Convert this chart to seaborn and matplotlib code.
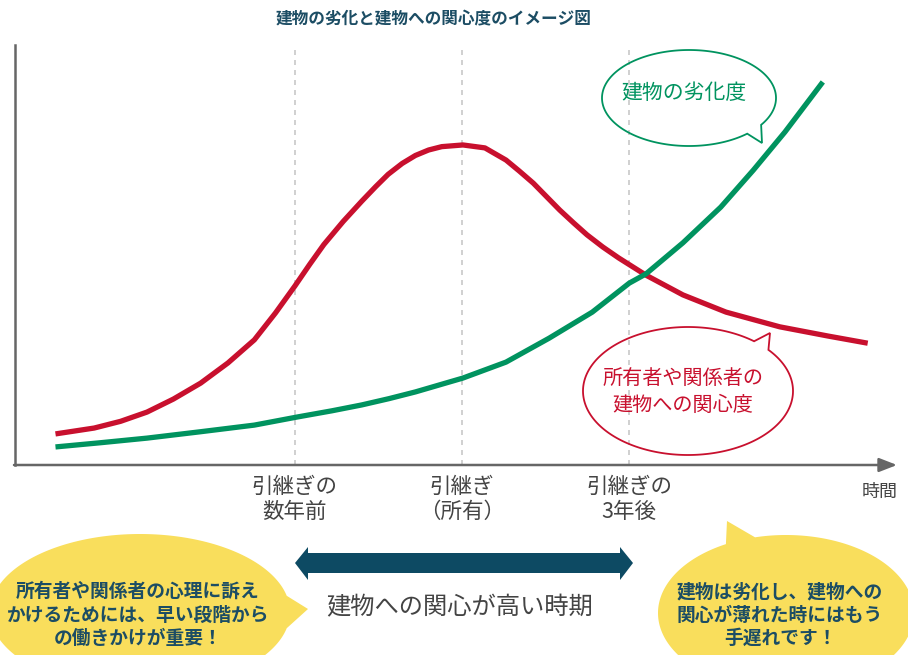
import numpy as np
import pandas as pd
import matplotlib
matplotlib.use("Agg")
import matplotlib.pyplot as plt
from matplotlib.patches import Polygon
import seaborn as sns

# ---------------- data ----------------
interest_x = [4.6, 9.0, 12.0, 15.0, 18.0, 21.1, 24.2, 27.2, 29.6, 31.8, 33.5,
              35.1, 37.3, 39.4, 41.0, 42.4, 44.0, 45.5, 47.0, 48.5, 50.9,
              53.4, 55.8, 57.3, 58.9, 60.4, 61.9, 63.5, 65.0, 66.8, 68.6,
              71.7, 75.9, 80.8, 86.9, 92.4, 96.9]
interest_y = [7.4, 8.8, 10.4, 12.6, 15.7, 19.5, 24.3, 29.8, 36.2, 42.6, 47.8,
              52.5, 58.0, 62.8, 66.3, 69.2, 71.8, 73.7, 75.0, 75.8, 76.2,
              75.5, 72.6, 70.0, 67.1, 63.9, 60.7, 57.6, 54.8, 51.9, 49.3,
              45.2, 40.5, 36.4, 32.9, 30.7, 29.0]
deterioration_x = [4.6, 9.7, 15.0, 21.0, 27.2, 32.0, 36.0, 39.4, 42.5, 45.5,
                   50.9, 55.8, 60.7, 65.6, 69.8, 71.7, 75.9, 80.2, 83.9, 87.5,
                   91.8]
deterioration_y = [4.3, 5.3, 6.4, 7.9, 9.5, 11.4, 12.9, 14.3, 15.8, 17.4,
                   20.7, 24.5, 30.2, 36.4, 43.3, 45.5, 52.9, 61.4, 70.2, 79.3,
                   91.2]
milestone_x = [31.8, 50.8, 69.8]
milestone_labels = ["引継ぎの\n数年前", "引継ぎ\n（所有）", "引継ぎの\n3年後"]
title = "建物の劣化と建物への関心度のイメージ図"
x_axis_label = "時間"
green_label = "建物の劣化度"
red_label = "所有者や関係者の\n建物への関心度"
period_label = "建物への関心が高い時期"
left_note = "所有者や関係者の心理に訴え\nかけるためには、早い段階から\nの働きかけが重要！"
right_note = "建物は劣化し、建物への\n関心が薄れた時にはもう\n手遅れです！"

RED = "#c8102e"
GREEN = "#00935f"
TEAL = "#1c4d64"
ARROW = "#0d4a63"
YELLOW = "#f9de5c"
GRAY = "#444444"

sns.set_theme(style="white")
plt.rcParams["font.family"] = ["Noto Sans CJK JP", "DejaVu Sans"]

W, H = 908, 655
fig = plt.figure(figsize=(W / 100, H / 100), dpi=100)
fig.patch.set_facecolor("white")

# data axes
ax = fig.add_axes([15 / W, (H - 465) / H, 880 / W, 420 / H])
ax.set_xlim(0, 100)
ax.set_ylim(0, 100)
ax.set_facecolor("none")

for xm in milestone_x:
    ax.axvline(xm, color="#c8c8c8", lw=1.2, ls=(0, (3, 3)), zorder=1)

df_red = pd.DataFrame({"x": interest_x, "y": interest_y})
df_green = pd.DataFrame({"x": deterioration_x, "y": deterioration_y})
sns.lineplot(data=df_green, x="x", y="y", ax=ax, color=GREEN, lw=3.8,
             sort=False, zorder=3)
sns.lineplot(data=df_red, x="x", y="y", ax=ax, color=RED, lw=3.8,
             sort=False, zorder=2)
for ln in ax.lines[-2:]:
    ln.set_solid_capstyle("butt")
    ln.set_solid_joinstyle("round")

for s in ["top", "right", "bottom"]:
    ax.spines[s].set_visible(False)
ax.spines["left"].set_color("#666666")
ax.spines["left"].set_linewidth(1.8)
ax.set_yticks([])
ax.set_xlabel("")
ax.set_ylabel("")
ax.set_xticks(milestone_x)
ax.set_xticklabels(milestone_labels, fontsize=15.5, color=GRAY, linespacing=1.15)
ax.tick_params(axis="x", length=0, pad=8)

# overlay axes in pixel coordinates
ov = fig.add_axes([0, 0, 1, 1])
ov.set_xlim(0, W)
ov.set_ylim(H, 0)
ov.axis("off")
ov.patch.set_visible(False)

# x axis with arrow
ov.annotate("", xy=(897, 465), xytext=(14, 465),
            arrowprops=dict(arrowstyle="-|>,head_length=0.9,head_width=0.35",
                            color="#666666", lw=1.8, shrinkA=0, shrinkB=0))
ov.text(880, 492, x_axis_label, fontsize=13, color=GRAY, ha="center", va="center")

ov.text(434, 19, title, fontsize=12, fontweight="bold", color=TEAL,
        ha="center", va="center")


def bubble(cx, cy, a, b, t1, t2, tip, **kw):
    t1, t2 = np.deg2rad(t1), np.deg2rad(t2)
    ts = np.linspace(t2, t1 + 2 * np.pi, 300)
    pts = np.column_stack([cx + a * np.cos(ts), cy + b * np.sin(ts)])
    pts = np.vstack([pts, [tip]])
    p = Polygon(pts, closed=True, **kw)
    ov.add_patch(p)
    return p


bubble(689, 98, 87, 48, 34, 48, (762, 143), fill=False, ec=GREEN, lw=1.3)
ov.text(684, 93, green_label, fontsize=15, color=GREEN, ha="center", va="center")

bubble(688, 391, 105, 64, -51, -40, (770, 333), fill=False, ec=RED, lw=1.3)
ov.text(683, 392, red_label, fontsize=14.5, color=RED, ha="center", va="center",
        linespacing=1.4)

bubble(140, 612, 150, 78, -12, 12, (308, 609), fc=YELLOW, ec="none")
ov.text(138, 615, left_note, fontsize=13.5, fontweight="bold", color=TEAL,
        ha="center", va="center", linespacing=1.3)

bubble(786, 613, 128, 78, -118, -104, (727, 521), fc=YELLOW, ec="none")
ov.text(780, 615, right_note, fontsize=13.5, fontweight="bold", color=TEAL,
        ha="center", va="center", linespacing=1.3)

# double-headed period arrow
arrow_pts = [(295, 563), (308, 547), (308, 553), (620, 553), (620, 547),
             (633, 563), (620, 580), (620, 573), (308, 573), (308, 580)]
ov.add_patch(Polygon(arrow_pts, closed=True, fc=ARROW, ec="none"))
ov.text(460, 607, period_label, fontsize=17.5, color=GRAY, ha="center", va="center")

fig.savefig("out.png", dpi=100)
